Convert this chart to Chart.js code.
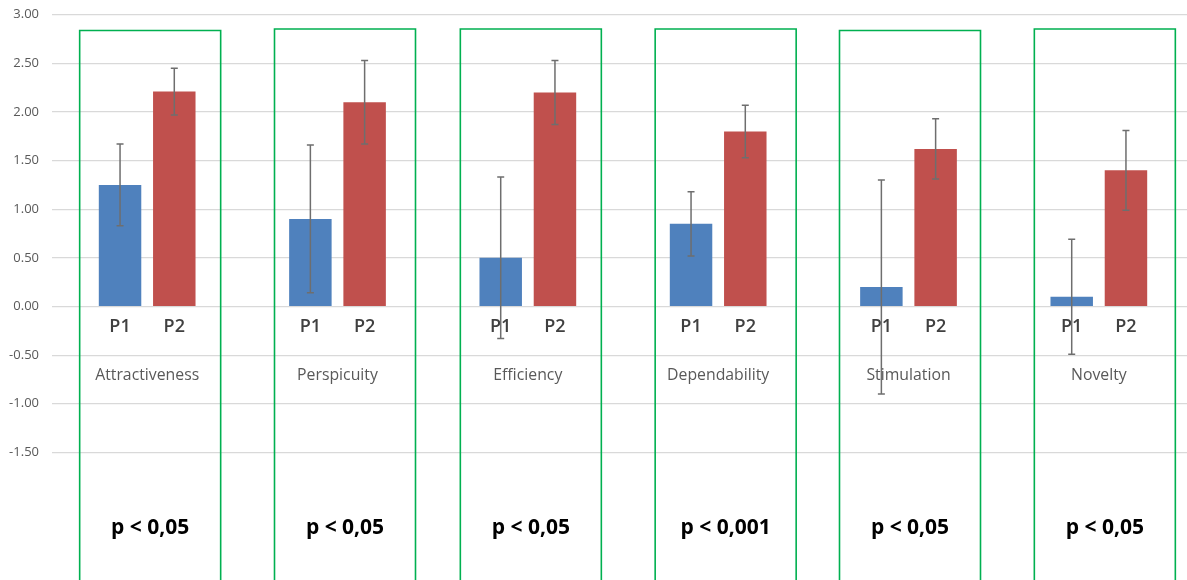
<!DOCTYPE html>
<html>
<head>
<meta charset="utf-8">
<script src="https://cdn.jsdelivr.net/npm/chart.js@4"></script>
<style>
  html, body { margin: 0; padding: 0; background: #fff; overflow: hidden; }
  #wrap { width: 1200px; height: 580px; position: relative; }
</style>
</head>
<body>
<div id="wrap"><canvas id="uxChart"></canvas></div>
<script>
// Данные графика
const categories = ['Attractiveness', 'Perspicuity', 'Efficiency', 'Dependability', 'Stimulation', 'Novelty'];
const seriesNames = ['P1', 'P2'];
const p1Means = [1.25, 0.90, 0.50, 0.85, 0.20, 0.10];
const p1Errors = [0.42, 0.76, 0.83, 0.33, 1.10, 0.59];
const p2Means = [2.21, 2.10, 2.20, 1.80, 1.62, 1.40];
const p2Errors = [0.24, 0.43, 0.33, 0.27, 0.31, 0.41];
const pValues = ['p < 0,05', 'p < 0,05', 'p < 0,05', 'p < 0,001', 'p < 0,05', 'p < 0,05'];
const yTickValues = [3, 2.5, 2, 1.5, 1, 0.5, 0, -0.5, -1, -1.5];

const FONT = "'Open Sans', 'Noto Sans', sans-serif";

// Зелёные рамки вокруг групп (смещение от центра категории и верх рамки)
const boxShift = [3, 7.5, 3, 7.5, 1.5, 6];
const boxTop = [30.5, 29, 29, 29, 30.5, 29];
const boxWidth = 141;

// Подписи P1/P2, планки погрешностей, рамки и p-значения
const overlayPlugin = {
  id: 'overlay',
  afterDatasetsDraw(chart) {
    const ctx = chart.ctx;
    const x = chart.scales.x;
    const y = chart.scales.y;
    const zeroY = y.getPixelForValue(0);
    const errors = [p1Errors, p2Errors];

    ctx.save();
    // подписи серий под столбцами
    ctx.font = '600 18px ' + FONT;
    ctx.fillStyle = '#404040';
    ctx.textAlign = 'center';
    ctx.textBaseline = 'middle';
    chart.data.datasets.forEach((ds, di) => {
      chart.getDatasetMeta(di).data.forEach((bar) => {
        ctx.fillText(ds.label, bar.x, zeroY + 20);
      });
    });

    // планки погрешностей
    ctx.strokeStyle = '#6e6e6e';
    ctx.lineWidth = 1.5;
    chart.data.datasets.forEach((ds, di) => {
      chart.getDatasetMeta(di).data.forEach((bar, i) => {
        const top = y.getPixelForValue(ds.data[i] + errors[di][i]);
        const bot = y.getPixelForValue(ds.data[i] - errors[di][i]);
        ctx.beginPath();
        ctx.moveTo(bar.x, top);
        ctx.lineTo(bar.x, bot);
        ctx.moveTo(bar.x - 3.5, top);
        ctx.lineTo(bar.x + 3.5, top);
        ctx.moveTo(bar.x - 3.5, bot);
        ctx.lineTo(bar.x + 3.5, bot);
        ctx.stroke();
      });
    });

    // рамки и p-значения
    ctx.strokeStyle = '#00b050';
    ctx.lineWidth = 1.6;
    ctx.fillStyle = '#000000';
    ctx.font = 'bold 21px ' + FONT;
    categories.forEach((c, i) => {
      const cx = x.getPixelForValue(i) + boxShift[i];
      const left = cx - boxWidth / 2;
      ctx.beginPath();
      ctx.moveTo(left, chart.height + 5);
      ctx.lineTo(left, boxTop[i]);
      ctx.lineTo(left + boxWidth, boxTop[i]);
      ctx.lineTo(left + boxWidth, chart.height + 5);
      ctx.stroke();
      ctx.fillText(pValues[i], cx, 528);
    });
    ctx.restore();
  }
};

const uxChart = new Chart(document.getElementById('uxChart'), {
  type: 'bar',
  data: {
    labels: categories,
    datasets: [
      {
        label: seriesNames[0],
        data: p1Means,
        backgroundColor: '#4f81bd',
        categoryPercentage: 0.57,
        barPercentage: 0.783
      },
      {
        label: seriesNames[1],
        data: p2Means,
        backgroundColor: '#c0504d',
        categoryPercentage: 0.57,
        barPercentage: 0.783
      }
    ]
  },
  options: {
    responsive: true,
    maintainAspectRatio: false,
    animation: false,
    layout: { padding: { top: 14.7, right: 6, bottom: 1.2, left: 0 } },
    plugins: {
      legend: { display: false },
      tooltip: { enabled: false }
    },
    scales: {
      x: {
        position: { y: 0 },
        afterFit(scale) {
          scale.height = 0;
        },
        grid: { display: false, drawTicks: false },
        border: { display: false },
        ticks: {
          color: '#595959',
          font: { family: FONT, size: 15.8 },
          padding: 60,
          maxRotation: 0
        }
      },
      y: {
        min: -2.8,
        max: 3,
        afterBuildTicks(scale) {
          scale.ticks = yTickValues.map(v => ({ value: v }));
        },
        afterFit(scale) {
          scale.width = 52;
          scale.paddingTop = 0;
          scale.paddingBottom = 0;
        },
        grid: { color: '#d9d9d9', lineWidth: 1.2, drawTicks: false },
        border: { display: false },
        ticks: {
          color: '#595959',
          font: { family: FONT, size: 13 },
          padding: 13,
          callback: (v) => Number(v).toFixed(2)
        }
      }
    }
  },
  plugins: [overlayPlugin]
});
</script>
</body>
</html>
